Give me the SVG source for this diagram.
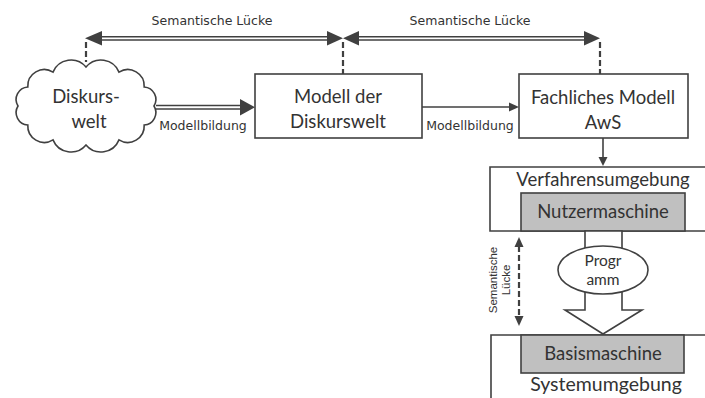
<svg xmlns="http://www.w3.org/2000/svg" width="705" height="398" viewBox="0 0 705 398">
<style>
.ln{stroke:#404040;stroke-width:1.6;fill:none}
.dl{stroke:#404040;stroke-width:1.4;fill:none}
.ds{stroke:#404040;stroke-width:2.2;stroke-dasharray:6,3;fill:none}
.hd{fill:#404040;stroke:none}
.box{fill:#fff;stroke:#404040;stroke-width:1.6}
.gry{fill:#c0c0c0;stroke:#404040;stroke-width:1.6}
.t{font-family:Lato,"Open Sans",sans-serif;font-size:18.5px;fill:#333;text-anchor:middle}
.s{font-family:"DejaVu Sans",Verdana,sans-serif;font-size:12.5px;fill:#333;text-anchor:middle}
.v{font-family:"Liberation Sans",Arial,sans-serif;font-size:11.5px;fill:#333;text-anchor:middle}
</style>
<rect width="705" height="398" fill="#fff"/>
<g id="connectors">
  <line class="dl" x1="98" y1="36.7" x2="331" y2="36.7"/>
  <line class="dl" x1="98" y1="40" x2="331" y2="40"/>
  <polygon class="hd" points="85,38.3 102,31 102,45.6"/>
  <polygon class="hd" points="343,38.3 327,31 327,45.6"/>
  <line class="dl" x1="355" y1="36.7" x2="589" y2="36.7"/>
  <line class="dl" x1="355" y1="40" x2="589" y2="40"/>
  <polygon class="hd" points="343,38.3 359,31 359,45.6"/>
  <polygon class="hd" points="600,38.3 584,31 584,45.6"/>
  <line class="ds" x1="86" y1="42" x2="86" y2="62"/>
  <line class="ds" x1="343" y1="42" x2="343" y2="74"/>
  <line class="ds" x1="600" y1="42" x2="600" y2="74"/>
  <text class="s" x="212" y="25">Semantische Lücke</text>
  <text class="s" x="470" y="25">Semantische Lücke</text>
  <line class="dl" x1="156" y1="105.5" x2="243" y2="105.5"/>
  <line class="dl" x1="156" y1="109" x2="243" y2="109"/>
  <polygon class="hd" points="255,107.3 240,99 240,115.6"/>
  <text class="s" x="203" y="130">Modellbildung</text>
  <line class="ln" x1="422" y1="107" x2="512" y2="107"/>
  <polygon class="hd" points="519,107 509,102.5 509,111.5"/>
  <text class="s" x="470" y="130">Modellbildung</text>
  <line class="ln" x1="603" y1="138" x2="603" y2="160"/>
  <polygon class="hd" points="603,166 598.5,157 607.5,157"/>
  <line class="ds" x1="519" y1="246" x2="519" y2="318"/>
  <polygon class="hd" points="519,237 514.5,247 523.5,247"/>
  <polygon class="hd" points="519,326 514.5,316 523.5,316"/>
  <g transform="translate(497,280) rotate(-90)">
    <text class="v" x="0" y="0">Semantische</text>
    <text class="v" x="0" y="13">Lücke</text>
  </g>
</g>
<g id="diskurswelt">
  <path class="box" d="M18,106 A12.5,12.5 0 0 1 27.8,87 A16.5,16.5 0 0 1 53,72.1 A19.5,19.5 0 0 1 86,67 A19.5,19.5 0 0 1 119,72.1 A16.5,16.5 0 0 1 144.2,87 A12.5,12.5 0 0 1 154,106 A12.5,12.5 0 0 1 144.2,125 A16.5,16.5 0 0 1 119,139.9 A19.5,19.5 0 0 1 86,145 A19.5,19.5 0 0 1 53,139.9 A16.5,16.5 0 0 1 27.8,125 A12.5,12.5 0 0 1 18,106 Z"/>
  <text class="t" x="86" y="103">Diskurs-</text>
  <text class="t" x="89" y="128">welt</text>
</g>
<g id="modell-diskurswelt">
  <rect class="box" x="255" y="74" width="167" height="64"/>
  <text class="t" x="338" y="103">Modell der</text>
  <text class="t" x="338" y="128">Diskurswelt</text>
</g>
<g id="fachliches-modell">
  <rect class="box" x="519" y="74" width="169" height="64"/>
  <text class="t" x="603" y="104">Fachliches Modell</text>
  <text class="t" x="603" y="129">AwS</text>
</g>
<g id="verfahrensumgebung">
  <path class="ln" d="M708,167 H490 V231 H708"/>
  <text class="t" x="603" y="186">Verfahrensumgebung</text>
</g>
<g id="nutzermaschine">
  <rect class="gry" x="521" y="193" width="164" height="38"/>
  <text class="t" x="603" y="218">Nutzermaschine</text>
</g>
<g id="programm-pfeil">
  <polygon class="box" points="585,231 585,310 565,310 603,334 642,310 622,310 622,231"/>
</g>
<g id="programm">
  <ellipse class="box" cx="603" cy="270" rx="45" ry="24"/>
  <text class="t" x="603" y="266" style="font-size:15.5px">Progr</text>
  <text class="t" x="603" y="285" style="font-size:15.5px">amm</text>
</g>
<g id="systemumgebung">
  <path class="ln" d="M708,335 H491 V400"/>
  <text class="t" x="606" y="391" style="font-size:19.5px">Systemumgebung</text>
</g>
<g id="basismaschine">
  <rect class="gry" x="521" y="335" width="163" height="38"/>
  <text class="t" x="603" y="360">Basismaschine</text>
</g>
</svg>
